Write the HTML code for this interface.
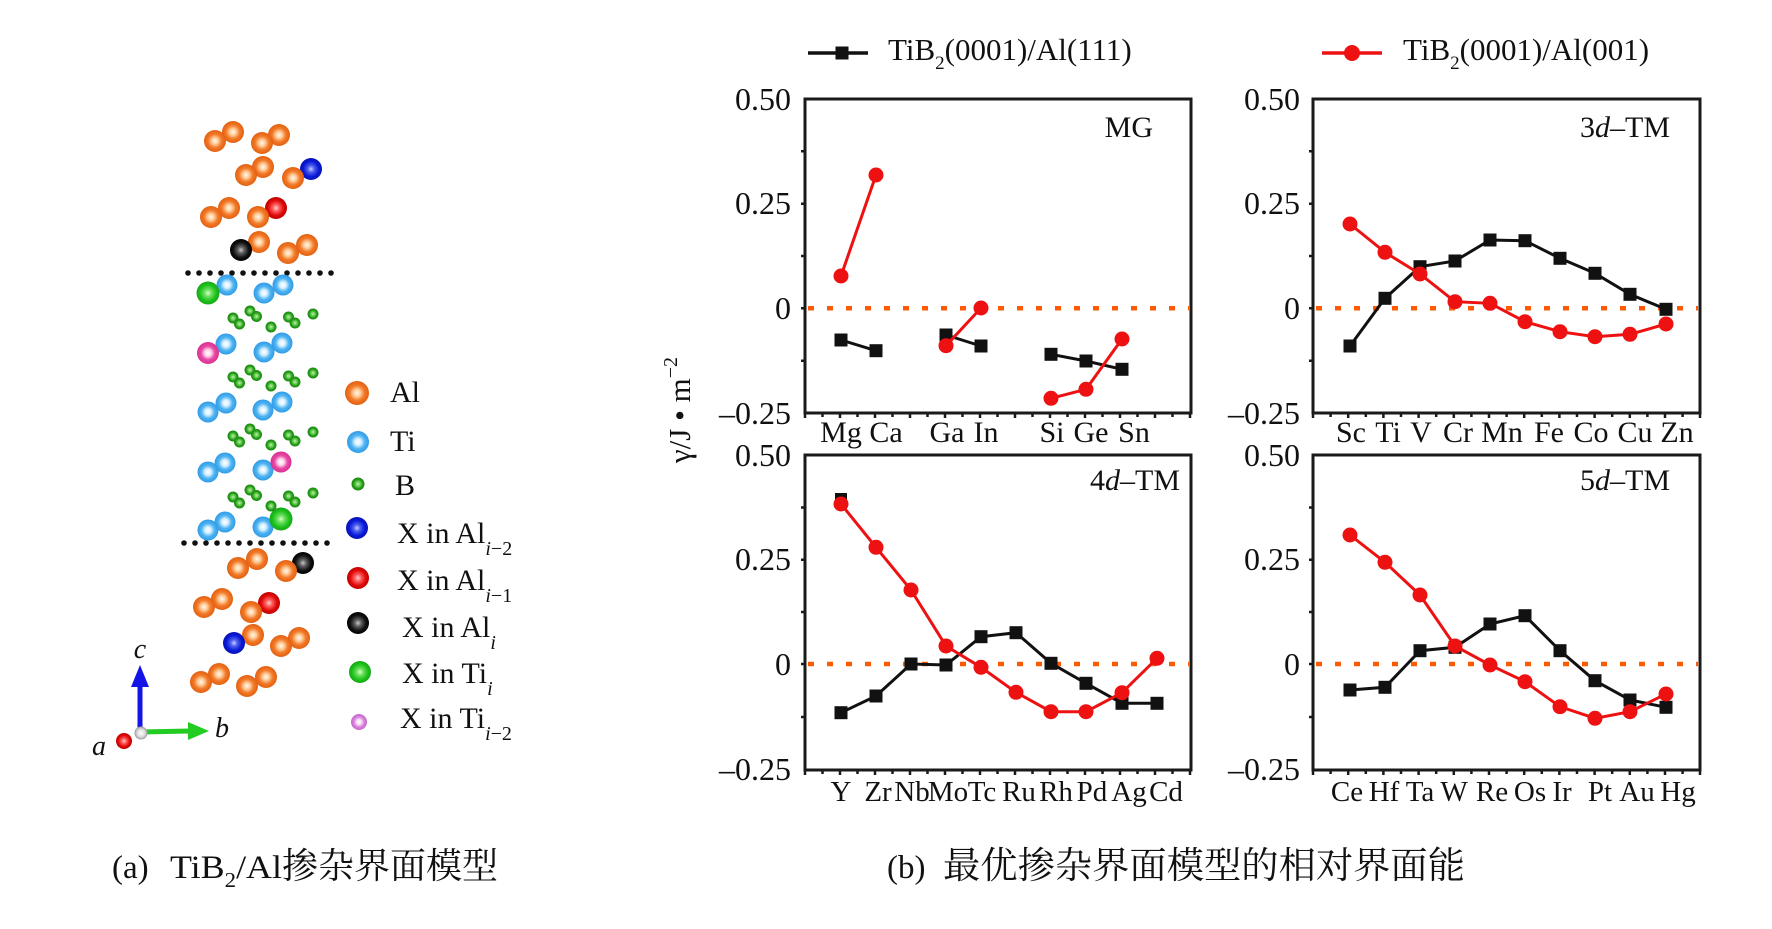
<!DOCTYPE html>
<html><head><meta charset="utf-8"><style>
html,body{margin:0;padding:0;background:#fff;}
svg{display:block;}
text{font-family:"Liberation Serif","Noto Serif CJK SC",serif;fill:#111;}
</style></head><body>
<svg width="1772" height="929" viewBox="0 0 1772 929" xmlns="http://www.w3.org/2000/svg">
<defs>
<radialGradient id="gAl"><stop offset="0" stop-color="#fff8ee"/><stop offset="0.3" stop-color="#ffcc99"/><stop offset="0.62" stop-color="#f27a2a"/><stop offset="1" stop-color="#e2600f"/></radialGradient>
<radialGradient id="gTi"><stop offset="0" stop-color="#ffffff"/><stop offset="0.3" stop-color="#d6f0ff"/><stop offset="0.62" stop-color="#4fb4f2"/><stop offset="1" stop-color="#2f9be6"/></radialGradient>
<radialGradient id="gB"><stop offset="0" stop-color="#b8f0a8"/><stop offset="0.35" stop-color="#6fcf5a"/><stop offset="0.7" stop-color="#259a18"/><stop offset="1" stop-color="#1a8a10"/></radialGradient>
<radialGradient id="gBl"><stop offset="0" stop-color="#c8d0ff"/><stop offset="0.3" stop-color="#5060f0"/><stop offset="0.7" stop-color="#0a1ad6"/><stop offset="1" stop-color="#0812b8"/></radialGradient>
<radialGradient id="gRd"><stop offset="0" stop-color="#ffd0d0"/><stop offset="0.3" stop-color="#ff6060"/><stop offset="0.7" stop-color="#e00a0a"/><stop offset="1" stop-color="#c00000"/></radialGradient>
<radialGradient id="gBk"><stop offset="0" stop-color="#c8c8c8"/><stop offset="0.3" stop-color="#606060"/><stop offset="0.7" stop-color="#121212"/><stop offset="1" stop-color="#000"/></radialGradient>
<radialGradient id="gGr"><stop offset="0" stop-color="#d8ffd0"/><stop offset="0.3" stop-color="#70e060"/><stop offset="0.7" stop-color="#1ec21e"/><stop offset="1" stop-color="#14a814"/></radialGradient>
<radialGradient id="gPk"><stop offset="0" stop-color="#ffffff"/><stop offset="0.3" stop-color="#ffd6ec"/><stop offset="0.62" stop-color="#e84aa6"/><stop offset="1" stop-color="#d8308e"/></radialGradient>
<radialGradient id="gPk2"><stop offset="0" stop-color="#ffffff"/><stop offset="0.3" stop-color="#f8e0f8"/><stop offset="0.65" stop-color="#d880dc"/><stop offset="1" stop-color="#c866cc"/></radialGradient>
<radialGradient id="gWh"><stop offset="0" stop-color="#ffffff"/><stop offset="0.6" stop-color="#dddddd"/><stop offset="1" stop-color="#999"/></radialGradient>
</defs>
<rect width="1772" height="929" fill="#fff"/>

<!-- ===== Left atomic model ===== -->
<g>
<circle cx="233" cy="132" r="11" fill="url(#gAl)"/><circle cx="215" cy="141" r="11" fill="url(#gAl)"/>
<circle cx="279" cy="135" r="11" fill="url(#gAl)"/><circle cx="262" cy="143" r="11" fill="url(#gAl)"/>
<circle cx="263" cy="167" r="11" fill="url(#gAl)"/><circle cx="246" cy="175" r="11" fill="url(#gAl)"/>
<circle cx="311" cy="169" r="11" fill="url(#gBl)"/><circle cx="293" cy="178" r="11" fill="url(#gAl)"/>
<circle cx="229" cy="208" r="11" fill="url(#gAl)"/><circle cx="211" cy="217" r="11" fill="url(#gAl)"/>
<circle cx="276" cy="208" r="11" fill="url(#gRd)"/><circle cx="258" cy="217" r="11" fill="url(#gAl)"/>
<circle cx="259" cy="242" r="11" fill="url(#gAl)"/><circle cx="241" cy="250" r="11" fill="url(#gBk)"/>
<circle cx="307" cy="245" r="11" fill="url(#gAl)"/><circle cx="288" cy="253" r="11" fill="url(#gAl)"/>
<g fill="#111">
<circle cx="188" cy="273" r="2.8"/><circle cx="199" cy="273" r="2.8"/><circle cx="210" cy="273" r="2.8"/><circle cx="221" cy="273" r="2.8"/><circle cx="232" cy="273" r="2.8"/><circle cx="243" cy="273" r="2.8"/><circle cx="254" cy="273" r="2.8"/><circle cx="265" cy="273" r="2.8"/><circle cx="276" cy="273" r="2.8"/><circle cx="287" cy="273" r="2.8"/><circle cx="298" cy="273" r="2.8"/><circle cx="309" cy="273" r="2.8"/><circle cx="320" cy="273" r="2.8"/><circle cx="331" cy="273" r="2.8"/>
</g>
<circle cx="227" cy="285" r="10.5" fill="url(#gTi)"/><circle cx="208" cy="293" r="11.5" fill="url(#gGr)"/>
<circle cx="283" cy="285" r="10.5" fill="url(#gTi)"/><circle cx="264" cy="293" r="10.5" fill="url(#gTi)"/>
<circle cx="226" cy="344" r="10.5" fill="url(#gTi)"/><circle cx="208" cy="353" r="11" fill="url(#gPk)"/>
<circle cx="282" cy="343" r="10.5" fill="url(#gTi)"/><circle cx="264" cy="352" r="10.5" fill="url(#gTi)"/>
<circle cx="226" cy="403" r="10.5" fill="url(#gTi)"/><circle cx="208" cy="412" r="10.5" fill="url(#gTi)"/>
<circle cx="282" cy="402" r="10.5" fill="url(#gTi)"/><circle cx="263" cy="410" r="10.5" fill="url(#gTi)"/>
<circle cx="225" cy="463" r="10.5" fill="url(#gTi)"/><circle cx="208" cy="472" r="10.5" fill="url(#gTi)"/>
<circle cx="263" cy="470" r="10.5" fill="url(#gTi)"/><circle cx="281" cy="462" r="10.5" fill="url(#gPk)"/>
<circle cx="225" cy="522" r="10.5" fill="url(#gTi)"/><circle cx="208" cy="530" r="10.5" fill="url(#gTi)"/>
<circle cx="263" cy="527" r="10.5" fill="url(#gTi)"/><circle cx="281" cy="519" r="11.5" fill="url(#gGr)"/>
<g id="brow">
<circle cx="233" cy="318" r="5.5" fill="url(#gB)"/><circle cx="239.5" cy="324" r="5.5" fill="url(#gB)"/>
<circle cx="250" cy="311" r="5.5" fill="url(#gB)"/><circle cx="256.5" cy="316.5" r="5.5" fill="url(#gB)"/>
<circle cx="271" cy="327" r="5.5" fill="url(#gB)"/>
<circle cx="288.5" cy="317" r="5.5" fill="url(#gB)"/><circle cx="295" cy="323" r="5.5" fill="url(#gB)"/>
<circle cx="313" cy="314" r="5.5" fill="url(#gB)"/>
</g>
<use href="#brow" transform="translate(0,59)"/>
<use href="#brow" transform="translate(0,118)"/>
<use href="#brow" transform="translate(0,179)"/>
<g fill="#111">
<circle cx="184" cy="543" r="2.8"/><circle cx="195" cy="543" r="2.8"/><circle cx="206" cy="543" r="2.8"/><circle cx="217" cy="543" r="2.8"/><circle cx="228" cy="543" r="2.8"/><circle cx="239" cy="543" r="2.8"/><circle cx="250" cy="543" r="2.8"/><circle cx="261" cy="543" r="2.8"/><circle cx="272" cy="543" r="2.8"/><circle cx="283" cy="543" r="2.8"/><circle cx="294" cy="543" r="2.8"/><circle cx="305" cy="543" r="2.8"/><circle cx="316" cy="543" r="2.8"/><circle cx="327" cy="543" r="2.8"/>
</g>
<circle cx="257" cy="559" r="11" fill="url(#gAl)"/><circle cx="238" cy="568" r="11" fill="url(#gAl)"/>
<circle cx="303" cy="563" r="11" fill="url(#gBk)"/><circle cx="286" cy="571" r="11" fill="url(#gAl)"/>
<circle cx="222" cy="599" r="11" fill="url(#gAl)"/><circle cx="204" cy="607" r="11" fill="url(#gAl)"/>
<circle cx="269" cy="603" r="11" fill="url(#gRd)"/><circle cx="251" cy="612" r="11" fill="url(#gAl)"/>
<circle cx="253" cy="635" r="11" fill="url(#gAl)"/><circle cx="234" cy="643" r="11" fill="url(#gBl)"/>
<circle cx="299" cy="638" r="11" fill="url(#gAl)"/><circle cx="281" cy="646" r="11" fill="url(#gAl)"/>
<circle cx="219" cy="674" r="11" fill="url(#gAl)"/><circle cx="201" cy="682" r="11" fill="url(#gAl)"/>
<circle cx="266" cy="677" r="11" fill="url(#gAl)"/><circle cx="247" cy="686" r="11" fill="url(#gAl)"/>
<line x1="140" y1="733" x2="140" y2="684" stroke="#1414e6" stroke-width="5"/>
<polygon points="131,687 149,687 140,665" fill="#1414e6"/>
<line x1="141" y1="732" x2="190" y2="731" stroke="#22cc22" stroke-width="5"/>
<polygon points="188,722 188,740 209,731" fill="#22cc22"/>
<circle cx="124" cy="741" r="8" fill="url(#gRd)"/>
<circle cx="141" cy="733" r="6.5" fill="url(#gWh)"/>
<text x="140" y="658" font-size="28" font-style="italic" text-anchor="middle">c</text>
<text x="215" y="737" font-size="28" font-style="italic">b</text>
<text x="92" y="755" font-size="28" font-style="italic">a</text>
<circle cx="357" cy="393" r="12" fill="url(#gAl)"/>
<text x="390" y="402" font-size="30">Al</text>
<circle cx="358" cy="442" r="11" fill="url(#gTi)"/>
<text x="390" y="451" font-size="30">Ti</text>
<circle cx="358" cy="484" r="6.5" fill="url(#gB)"/>
<text x="395" y="495" font-size="30">B</text>
<circle cx="357" cy="528" r="11" fill="url(#gBl)"/>
<text x="397" y="543" font-size="30">X in Al<tspan font-size="20" font-style="italic" dy="12">i</tspan><tspan font-size="20" dy="0">−2</tspan></text>
<circle cx="358" cy="578" r="11" fill="url(#gRd)"/>
<text x="397" y="590" font-size="30">X in Al<tspan font-size="20" font-style="italic" dy="12">i</tspan><tspan font-size="20" dy="0">−1</tspan></text>
<circle cx="358" cy="623" r="11" fill="url(#gBk)"/>
<text x="402" y="637" font-size="30">X in Al<tspan font-size="20" font-style="italic" dy="12">i</tspan></text>
<circle cx="360" cy="672" r="11" fill="url(#gGr)"/>
<text x="402" y="683" font-size="30">X in Ti<tspan font-size="20" font-style="italic" dy="12">i</tspan></text>
<circle cx="359" cy="722" r="8" fill="url(#gPk2)"/>
<text x="400" y="728" font-size="30">X in Ti<tspan font-size="20" font-style="italic" dy="12">i</tspan><tspan font-size="20" dy="0">−2</tspan></text>
</g>

<!-- ===== Chart legend ===== -->
<line x1="808" y1="53" x2="868" y2="53" stroke="#111" stroke-width="3.5"/>
<rect x="835.5" y="46.5" width="13" height="13" fill="#111"/>
<text x="888" y="60" font-size="31">TiB<tspan font-size="19" dy="9">2</tspan><tspan dy="-9">(0001)/Al(111)</tspan></text>
<line x1="1322" y1="53" x2="1382" y2="53" stroke="#ee1111" stroke-width="3.5"/>
<circle cx="1352" cy="53" r="8" fill="#ee1111"/>
<text x="1403" y="60" font-size="31">TiB<tspan font-size="19" dy="9">2</tspan><tspan dy="-9">(0001)/Al(001)</tspan></text>

<text transform="translate(690,410) rotate(-90)" font-size="31" text-anchor="middle">γ/J • m<tspan font-size="20" dy="-13">−2</tspan></text>

<!-- ===== Frames ===== -->
<g fill="none" stroke="#1a1a1a" stroke-width="3">
<rect x="805" y="99" width="386" height="314"/>
<rect x="1313" y="99" width="387" height="314"/>
<rect x="805" y="455" width="386" height="315"/>
<rect x="1313" y="455" width="387" height="315"/>
</g>
<g stroke="#1a1a1a" stroke-width="2.5">
<path d="M801 151.3h4M801 256h4M801 360.7h4M801 203.7h4M801 308.3h4
M1309 151.3h4M1309 256h4M1309 360.7h4M1309 203.7h4M1309 308.3h4
M801 507.5h4M801 612h4M801 717h4M801 559.7h4M801 664h4
M1309 507.5h4M1309 612h4M1309 717h4M1309 559.7h4M1309 664h4"/>
<path d="M805 413v5M822.5 413v4M840 413v5M857.5 413v4M875 413v5M892.5 413v4M910 413v5M927.5 413v4M945 413v5M962.5 413v4M980 413v5M997.5 413v4M1015 413v5M1032.5 413v4M1050 413v5M1067.5 413v4M1085 413v5M1102.5 413v4M1120 413v5M1137.5 413v4M1155 413v5M1172.5 413v4M1190 413v5
M805 770v5M822.5 770v4M840 770v5M857.5 770v4M875 770v5M892.5 770v4M910 770v5M927.5 770v4M945 770v5M962.5 770v4M980 770v5M997.5 770v4M1015 770v5M1032.5 770v4M1050 770v5M1067.5 770v4M1085 770v5M1102.5 770v4M1120 770v5M1137.5 770v4M1155 770v5M1172.5 770v4M1190 770v5
M1313 413v5M1330.6 413v4M1348.2 413v5M1365.8 413v4M1383.4 413v5M1401 413v4M1418.6 413v5M1436.2 413v4M1453.8 413v5M1471.4 413v4M1489 413v5M1506.6 413v4M1524.2 413v5M1541.8 413v4M1559.4 413v5M1577 413v4M1594.6 413v5M1612.2 413v4M1629.8 413v5M1647.4 413v4M1665 413v5M1682.6 413v4M1700 413v5
M1313 770v5M1330.6 770v4M1348.2 770v5M1365.8 770v4M1383.4 770v5M1401 770v4M1418.6 770v5M1436.2 770v4M1453.8 770v5M1471.4 770v4M1489 770v5M1506.6 770v4M1524.2 770v5M1541.8 770v4M1559.4 770v5M1577 770v4M1594.6 770v5M1612.2 770v4M1629.8 770v5M1647.4 770v4M1665 770v5M1682.6 770v4M1700 770v5"/>
</g>

<g font-size="32" text-anchor="end">
<text x="791" y="110">0.50</text><text x="791" y="214">0.25</text><text x="791" y="319">0</text><text x="791" y="424">–0.25</text>
<text x="1300" y="110">0.50</text><text x="1300" y="214">0.25</text><text x="1300" y="319">0</text><text x="1300" y="424">–0.25</text>
<text x="791" y="466">0.50</text><text x="791" y="570">0.25</text><text x="791" y="675">0</text><text x="791" y="780">–0.25</text>
<text x="1300" y="466">0.50</text><text x="1300" y="570">0.25</text><text x="1300" y="675">0</text><text x="1300" y="780">–0.25</text>
</g>

<g font-size="30" text-anchor="end">
<text x="1153" y="137">MG</text>
<text x="1670" y="137">3<tspan font-style="italic">d</tspan>–TM</text>
<text x="1180" y="490">4<tspan font-style="italic">d</tspan>–TM</text>
<text x="1670" y="490">5<tspan font-style="italic">d</tspan>–TM</text>
</g>

<g font-size="30" text-anchor="middle">
<text x="841" y="442">Mg</text><text x="886" y="442">Ca</text><text x="947" y="442">Ga</text><text x="986" y="442">In</text><text x="1052" y="442">Si</text><text x="1091" y="442">Ge</text><text x="1134" y="442">Sn</text>
<text x="1351" y="442">Sc</text><text x="1388" y="442">Ti</text><text x="1421" y="442">V</text><text x="1458" y="442">Cr</text><text x="1502" y="442">Mn</text><text x="1549" y="442">Fe</text><text x="1591" y="442">Co</text><text x="1635" y="442">Cu</text><text x="1677" y="442">Zn</text>
</g>
<g font-size="29" text-anchor="middle">
<text x="841" y="801">Y</text><text x="878" y="801">Zr</text><text x="912" y="801">Nb</text><text x="948" y="801">Mo</text><text x="982" y="801">Tc</text><text x="1019" y="801">Ru</text><text x="1056" y="801">Rh</text><text x="1092" y="801">Pd</text><text x="1129" y="801">Ag</text><text x="1166" y="801">Cd</text>
<text x="1347" y="801">Ce</text><text x="1384" y="801">Hf</text><text x="1420" y="801">Ta</text><text x="1454" y="801">W</text><text x="1492" y="801">Re</text><text x="1530" y="801">Os</text><text x="1562" y="801">Ir</text><text x="1600" y="801">Pt</text><text x="1637" y="801">Au</text><text x="1678" y="801">Hg</text>
</g>

<g stroke="#ff5a00" stroke-width="4.5" stroke-dasharray="6 13">
<line x1="808" y1="308.3" x2="1189" y2="308.3"/>
<line x1="1316" y1="308.3" x2="1698" y2="308.3"/>
<line x1="808" y1="664" x2="1189" y2="664"/>
<line x1="1316" y1="664" x2="1698" y2="664"/>
</g>

<g fill="none" stroke="#111" stroke-width="3">
<polyline points="841,340 876,350.7"/><polyline points="946,335 981,346"/><polyline points="1051,354.3 1086,361 1122,369.3"/>
<polyline points="1350,346 1385,298.3 1420,266.7 1455,261 1490,240 1525,240.7 1560,258.3 1595,273.3 1630,294.3 1666,309.3"/>
<polyline points="841,712.7 876,696 911,664 946,665 981,636.7 1016,632.7 1051,663.3 1086,683.3 1122,703.3 1157,703.3"/>
<polyline points="1350,690 1385,687.3 1420,650.7 1455,647.3 1490,624 1525,615.7 1560,650.7 1595,680.7 1630,700 1666,707.3"/>
</g>
<g fill="#111">
<rect x="834.5" y="333.5" width="13" height="13"/><rect x="869.5" y="344.2" width="13" height="13"/>
<rect x="939.5" y="328.5" width="13" height="13"/><rect x="974.5" y="339.5" width="13" height="13"/>
<rect x="1044.5" y="347.8" width="13" height="13"/><rect x="1079.5" y="354.5" width="13" height="13"/><rect x="1115.5" y="362.8" width="13" height="13"/>
<rect x="1343.5" y="339.5" width="13" height="13"/><rect x="1378.5" y="291.8" width="13" height="13"/><rect x="1413.5" y="260.2" width="13" height="13"/><rect x="1448.5" y="254.5" width="13" height="13"/><rect x="1483.5" y="233.5" width="13" height="13"/><rect x="1518.5" y="234.2" width="13" height="13"/><rect x="1553.5" y="251.8" width="13" height="13"/><rect x="1588.5" y="266.8" width="13" height="13"/><rect x="1623.5" y="287.8" width="13" height="13"/><rect x="1659.5" y="302.8" width="13" height="13"/>
<rect x="835" y="493" width="12" height="8"/>
<rect x="834.5" y="706.2" width="13" height="13"/><rect x="869.5" y="689.5" width="13" height="13"/><rect x="904.5" y="657.5" width="13" height="13"/><rect x="939.5" y="658.5" width="13" height="13"/><rect x="974.5" y="630.2" width="13" height="13"/><rect x="1009.5" y="626.2" width="13" height="13"/><rect x="1044.5" y="656.8" width="13" height="13"/><rect x="1079.5" y="676.8" width="13" height="13"/><rect x="1115.5" y="696.8" width="13" height="13"/><rect x="1150.5" y="696.8" width="13" height="13"/>
<rect x="1343.5" y="683.5" width="13" height="13"/><rect x="1378.5" y="680.8" width="13" height="13"/><rect x="1413.5" y="644.2" width="13" height="13"/><rect x="1448.5" y="640.8" width="13" height="13"/><rect x="1483.5" y="617.5" width="13" height="13"/><rect x="1518.5" y="609.2" width="13" height="13"/><rect x="1553.5" y="644.2" width="13" height="13"/><rect x="1588.5" y="674.2" width="13" height="13"/><rect x="1623.5" y="693.5" width="13" height="13"/><rect x="1659.5" y="700.8" width="13" height="13"/>
</g>

<g fill="none" stroke="#ee1111" stroke-width="3">
<polyline points="841,276 876,175"/><polyline points="946,345.7 981,308"/><polyline points="1051,398.3 1086,389.3 1122,339"/>
<polyline points="1350,224 1385,252.3 1420,274 1455,301.7 1490,303.3 1525,321.7 1560,331.7 1595,336.7 1630,334.3 1666,324"/>
<polyline points="841,504 876,547.3 911,590 946,646 981,667.3 1016,692.3 1051,711.7 1086,711.7 1122,692.7 1157,658.3"/>
<polyline points="1350,535 1385,562.3 1420,595 1455,646 1490,665 1525,681.7 1560,706.7 1595,718.3 1630,711.7 1666,694"/>
</g>
<g fill="#ee1111">
<circle cx="841" cy="276" r="7.5"/><circle cx="876" cy="175" r="7.5"/><circle cx="946" cy="345.7" r="7.5"/><circle cx="981" cy="308" r="7.5"/><circle cx="1051" cy="398.3" r="7.5"/><circle cx="1086" cy="389.3" r="7.5"/><circle cx="1122" cy="339" r="7.5"/>
<circle cx="1350" cy="224" r="7.5"/><circle cx="1385" cy="252.3" r="7.5"/><circle cx="1420" cy="274" r="7.5"/><circle cx="1455" cy="301.7" r="7.5"/><circle cx="1490" cy="303.3" r="7.5"/><circle cx="1525" cy="321.7" r="7.5"/><circle cx="1560" cy="331.7" r="7.5"/><circle cx="1595" cy="336.7" r="7.5"/><circle cx="1630" cy="334.3" r="7.5"/><circle cx="1666" cy="324" r="7.5"/>
<circle cx="841" cy="504" r="7.5"/><circle cx="876" cy="547.3" r="7.5"/><circle cx="911" cy="590" r="7.5"/><circle cx="946" cy="646" r="7.5"/><circle cx="981" cy="667.3" r="7.5"/><circle cx="1016" cy="692.3" r="7.5"/><circle cx="1051" cy="711.7" r="7.5"/><circle cx="1086" cy="711.7" r="7.5"/><circle cx="1122" cy="692.7" r="7.5"/><circle cx="1157" cy="658.3" r="7.5"/>
<circle cx="1350" cy="535" r="7.5"/><circle cx="1385" cy="562.3" r="7.5"/><circle cx="1420" cy="595" r="7.5"/><circle cx="1455" cy="646" r="7.5"/><circle cx="1490" cy="665" r="7.5"/><circle cx="1525" cy="681.7" r="7.5"/><circle cx="1560" cy="706.7" r="7.5"/><circle cx="1595" cy="718.3" r="7.5"/><circle cx="1630" cy="711.7" r="7.5"/><circle cx="1666" cy="694" r="7.5"/>
</g>

<!-- ===== Captions ===== -->
<text x="112" y="878" font-size="33">(a)</text>
<text x="170" y="878" font-size="33" textLength="112" lengthAdjust="spacingAndGlyphs">TiB<tspan font-size="21" dy="9">2</tspan><tspan dy="-9">/Al</tspan></text>
<text x="282" y="878" font-size="36" textLength="216" lengthAdjust="spacingAndGlyphs">掺杂界面模型</text>
<text x="887" y="878" font-size="33">(b)</text>
<text x="943" y="878" font-size="37" textLength="522" lengthAdjust="spacingAndGlyphs">最优掺杂界面模型的相对界面能</text>
</svg>
</body></html>
